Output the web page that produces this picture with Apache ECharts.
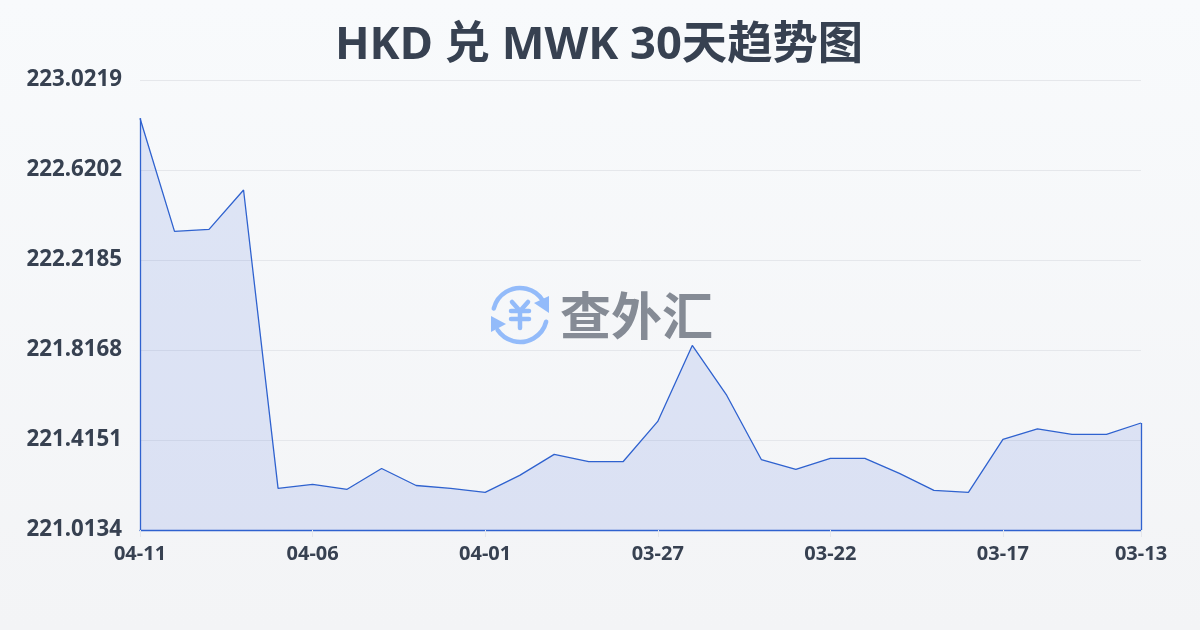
<!DOCTYPE html>
<html><head><meta charset="utf-8">
<style>html,body{margin:0;padding:0;width:1200px;height:630px;overflow:hidden}#c{width:1200px;height:630px}</style>
<script src="https://cdn.jsdelivr.net/npm/echarts@6/dist/echarts.min.js"></script>
</head><body><div id="c"></div>
<script>
const dates=['04-11','04-10','04-09','04-08','04-07','04-06','04-05','04-04','04-03','04-02','04-01','03-31','03-30','03-29','03-28','03-27','03-26','03-25','03-24','03-23','03-22','03-21','03-20','03-19','03-18','03-17','03-16','03-15','03-14','03-13'];
const rates=[222.851,222.346,222.355,222.531,221.199,221.217,221.195,221.288,221.212,221.199,221.181,221.257,221.351,221.319,221.319,221.498,221.837,221.614,221.328,221.284,221.333,221.333,221.266,221.190,221.181,221.418,221.465,221.440,221.440,221.491];
const yMin=221.0134, yMax=223.0219, yStep=0.4017;
const labelIdx=[0,5,10,15,20,25,29];
const FF='"Noto Sans","Noto Sans CJK SC",sans-serif';
const chart=echarts.init(document.getElementById('c'));
const blue='#2f62cf', iconC='#93bbfa';
const seg=pts=>({type:'polyline',z:10,shape:{points:pts},style:{stroke:iconC,lineWidth:4.5,fill:null,lineCap:'round',lineJoin:'round'}});
chart.setOption({
 animation:false,
 backgroundColor:{type:'linear',x:0,y:0,x2:0,y2:1,colorStops:[{offset:0,color:'#f8fafc'},{offset:1,color:'#f3f4f6'}]},
 title:{text:'HKD 兑 MWK 30天趋势图',left:594,textAlign:'center',top:18,textStyle:{fontFamily:FF,fontSize:45.3,fontWeight:'bold',color:'#374151'}},
 grid:{left:140,right:59,top:80,bottom:100},
 xAxis:{type:'category',boundaryGap:false,data:dates,
  axisLine:{show:true,lineStyle:{color:blue,width:1.3}},
  axisTick:{show:true,length:7,lineStyle:{color:'#e5e7eb'},interval:(i)=>labelIdx.includes(i)},
  axisLabel:{interval:(i)=>labelIdx.includes(i),showMinLabel:true,showMaxLabel:true,margin:14,fontFamily:FF,fontSize:20,fontWeight:'bold',color:'#374151'},
  splitLine:{show:false}},
 yAxis:{type:'value',min:yMin,max:yMax,interval:yStep,
  axisLine:{show:false},axisTick:{show:false},
  axisLabel:{margin:18,fontFamily:FF,fontSize:22.3,fontWeight:'bold',color:'#374151',padding:[0,0,3,0],formatter:v=>String(+v.toFixed(4))},
  splitLine:{show:true,lineStyle:{color:'#e5e7eb',width:1}}},
 graphic:[
  {type:'text',left:560,top:290,z:10,style:{text:'查外汇',fontFamily:'"Noto Sans CJK SC",sans-serif',fontSize:51,fontWeight:'bold',fill:'#858b95'}},
  seg([[512,302],[520,311],[528,302]]),
  seg([[511,311],[529,311]]),
  seg([[511,319],[529,319]]),
  seg([[520,311],[520,328]]),
  {type:'arc',z:10,shape:{cx:520,cy:315,r:27,startAngle:-2.9,endAngle:-0.55},style:{stroke:iconC,lineWidth:4.5,fill:null,lineCap:'round'}},
  {type:'arc',z:10,shape:{cx:520,cy:315,r:27,startAngle:0.25,endAngle:2.55},style:{stroke:iconC,lineWidth:4.5,fill:null,lineCap:'round'}},
  {type:'polygon',z:10,shape:{points:[[549,296],[549,313],[534,303]]},style:{fill:iconC}},
  {type:'polygon',z:10,shape:{points:[[491,316],[491,332],[506,324]]},style:{fill:iconC}}
 ],
 series:[{type:'line',data:rates,symbol:'none',smooth:false,
  lineStyle:{color:blue,width:1.3},
  areaStyle:{color:'rgba(45,90,215,0.18)',origin:'start'},
  markLine:{silent:true,symbol:'none',label:{show:false},lineStyle:{color:blue,width:1.3,type:'solid'},
   data:[[{coord:[dates[0],yMin]},{coord:[dates[0],rates[0]]}],
         [{coord:[dates[dates.length-1],yMin]},{coord:[dates[dates.length-1],rates[rates.length-1]]}]]}}]
});
</script></body></html>
